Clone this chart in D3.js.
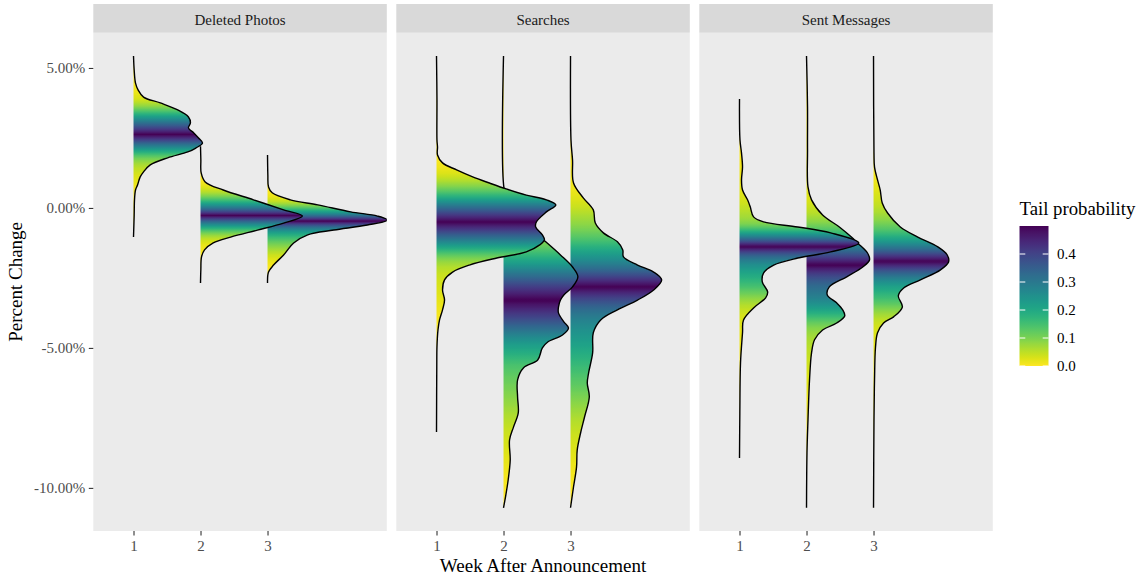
<!DOCTYPE html>
<html>
<head>
<meta charset="utf-8">
<script src="https://cdn.jsdelivr.net/npm/d3@7"></script>
<style>
  body { margin: 0; background: #fff; }
  text { font-family: "Liberation Serif", "Times New Roman", serif; }
</style>
</head>
<body>
<script>
// data
var panels = ["Deleted Photos", "Searches", "Sent Messages"];
var weeks = [1, 2, 3];
var yTicks = [5, 0, -5, -10];
var legendTicks = [0, 0.1, 0.2, 0.3, 0.4];

// density outlines: [percent change, half-width in week units], top to bottom
var photosWeek1 = [[5.43,0],[4.93,0.01],[4.46,0.03],[4.21,0.07],[3.96,0.15],[3.75,0.40],[3.50,0.66],[3.25,0.82],[3.04,0.85],[2.86,0.82],[2.68,0.90],[2.50,0.97],[2.32,1.03],[2.14,0.93],[2.00,0.81],[1.79,0.51],[1.54,0.25],[1.29,0.15],[1.11,0.10],[0.82,0.06],[0.64,0.03],[0.29,0.015],[-0.25,0.01],[-1.04,0]];
var photosWeek2 = [[2.20,0],[1.71,0.005],[1.25,0.01],[0.93,0.07],[0.64,0.34],[0.29,0.79],[-0.07,1.24],[-0.29,1.52],[-0.54,1.24],[-0.79,0.85],[-1.04,0.45],[-1.25,0.19],[-1.50,0.06],[-1.75,0.015],[-2.21,0.005],[-2.68,0]];
var photosWeek3 = [[1.89,0],[1.18,0.005],[0.75,0.015],[0.54,0.07],[0.29,0.34],[0.11,0.75],[-0.14,1.24],[-0.29,1.64],[-0.43,1.79],[-0.61,1.49],[-0.79,0.99],[-0.96,0.60],[-1.25,0.39],[-1.68,0.24],[-2.04,0.09],[-2.29,0.015],[-2.68,0]];

var searchesWeek1 = [[5.43,0],[3.86,0.007],[2.43,0.007],[2.18,0.015],[1.89,0.015],[1.61,0.09],[1.36,0.30],[1.11,0.54],[0.89,0.79],[0.68,1.04],[0.46,1.34],[0.29,1.64],[0.11,1.78],[-0.14,1.64],[-0.50,1.49],[-0.68,1.48],[-0.96,1.58],[-1.14,1.61],[-1.32,1.54],[-1.57,1.34],[-1.79,0.90],[-2.04,0.49],[-2.29,0.24],[-2.57,0.12],[-2.93,0.09],[-3.29,0.12],[-3.64,0.09],[-4.00,0.045],[-4.36,0.022],[-4.96,0.007],[-5.68,0.004],[-8.00,0]];
var searchesWeek2 = [[5.43,0],[0.71,0.007],[0.29,0.06],[-0.07,0.13],[-0.43,0.25],[-0.79,0.42],[-1.21,0.63],[-1.68,0.85],[-2.11,1.03],[-2.46,1.11],[-2.82,1.03],[-3.11,0.90],[-3.29,0.85],[-3.54,0.82],[-3.75,0.82],[-4.07,0.90],[-4.29,0.97],[-4.54,0.88],[-4.79,0.66],[-5.00,0.58],[-5.43,0.51],[-5.71,0.30],[-6.14,0.21],[-6.75,0.21],[-7.32,0.22],[-7.82,0.15],[-8.29,0.09],[-9.00,0.10],[-9.71,0.07],[-10.32,0.03],[-10.71,0]];
var searchesWeek3 = [[5.43,0],[2.43,0.007],[1.71,0.03],[0.89,0.045],[0.36,0.19],[-0.07,0.34],[-0.54,0.37],[-0.89,0.49],[-1.21,0.70],[-1.50,0.78],[-1.75,0.79],[-2.04,1.00],[-2.29,1.24],[-2.57,1.36],[-2.93,1.24],[-3.29,1.00],[-3.64,0.70],[-4.00,0.45],[-4.46,0.34],[-5.18,0.33],[-5.89,0.27],[-6.25,0.25],[-6.75,0.28],[-7.46,0.21],[-8.04,0.15],[-8.64,0.10],[-9.25,0.09],[-9.96,0.045],[-10.71,0]];

var messagesWeek1 = [[3.89,0],[2.43,0.007],[1.96,0.03],[1.46,0.045],[1.00,0.03],[0.64,0.045],[0.29,0.12],[0.04,0.16],[-0.32,0.21],[-0.50,0.36],[-0.68,0.87],[-0.89,1.36],[-1.25,1.78],[-1.57,1.36],[-1.79,0.87],[-2.04,0.51],[-2.32,0.36],[-2.64,0.34],[-3.00,0.42],[-3.21,0.39],[-3.57,0.21],[-4.00,0.06],[-4.46,0.045],[-5.54,0.015],[-7.32,0.005],[-8.93,0]];
var messagesWeek2 = [[5.43,0],[3.61,0.015],[2.07,0.015],[0.75,0.022],[0.29,0.075],[-0.25,0.24],[-0.68,0.49],[-1.04,0.67],[-1.25,0.76],[-1.61,0.91],[-1.86,0.94],[-2.11,0.84],[-2.46,0.60],[-2.82,0.34],[-3.11,0.31],[-3.39,0.45],[-3.64,0.54],[-3.86,0.57],[-4.11,0.45],[-4.36,0.24],[-4.71,0.12],[-5.18,0.075],[-6.14,0.045],[-7.57,0.022],[-8.75,0.007],[-10.71,0]];
var messagesWeek3 = [[5.43,0],[1.96,0.007],[1.46,0.015],[1.00,0.06],[0.64,0.10],[0.18,0.13],[-0.18,0.21],[-0.68,0.40],[-1.04,0.66],[-1.39,0.96],[-1.68,1.10],[-1.93,1.12],[-2.21,1.00],[-2.57,0.70],[-2.86,0.45],[-3.14,0.37],[-3.54,0.43],[-3.89,0.30],[-4.11,0.15],[-4.46,0.06],[-4.96,0.03],[-6.14,0.015],[-7.57,0.007],[-10.71,0]];

var densities = [
  [photosWeek1, photosWeek2, photosWeek3],
  [searchesWeek1, searchesWeek2, searchesWeek3],
  [messagesWeek1, messagesWeek2, messagesWeek3]
];

// layout
var svgWidth = 1140;
var svgHeight = 577;
var margin = { top: 32.7, left: 93.3, bottom: 531 };
var stripTop = 4;
var panelWidth = 293.5;
var panelGap = 9.5;

var svg = d3.select("body")
  .append("svg")
  .attr("width", svgWidth)
  .attr("height", svgHeight);
var defs = svg.append("defs");

var xScale = d3.scaleLinear()
  .domain([0.4, 4.78])
  .range([0, panelWidth]);

var yScale = d3.scaleLinear()
  .domain([-11.54, 6.26])
  .range([margin.bottom, margin.top]);

// viridis reversed: tail 0 -> yellow, tail 0.5 -> purple
function tailColor(t) {
  return d3.interpolateViridis(1 - t / 0.5);
}

// cumulative distribution along the outline, turned into gradient stops
function tailStops(dens) {
  var n = 300;
  var top = dens[0][0], bot = dens[dens.length - 1][0];
  var ps = d3.range(n + 1).map(function(i) { return top + (bot - top) * i / n; });
  var vals = ps.map(function(p) {
    for (var k = 1; k < dens.length; k++) {
      if (p >= dens[k][0]) {
        var a = dens[k - 1], b = dens[k];
        var f = (a[0] - p) / (a[0] - b[0]);
        return a[1] + (b[1] - a[1]) * f;
      }
    }
    return 0;
  });
  var cum = [0];
  for (var i = 1; i <= n; i++) cum.push(cum[i - 1] + (vals[i - 1] + vals[i]) / 2);
  var total = cum[n];
  return ps.map(function(p, i) {
    var F = cum[i] / total;
    return { offset: i / n, tail: Math.min(F, 1 - F) };
  });
}

function styleAxis(sel) {
  sel.attr("font-family", "Liberation Serif, Times New Roman, serif")
    .attr("font-size", 15);
  sel.select(".domain").remove();
  sel.selectAll(".tick line").attr("stroke", "#333333").attr("stroke-width", 1.1);
  sel.selectAll(".tick text").attr("fill", "#4D4D4D");
}

var curve = d3.curveCatmullRom.alpha(0.5);

panels.forEach(function(name, p) {
  var left = margin.left + p * (panelWidth + panelGap);
  var g = svg.append("g").attr("transform", `translate(${left}, 0)`);

  g.append("rect")
    .attr("y", margin.top)
    .attr("width", panelWidth)
    .attr("height", margin.bottom - margin.top)
    .attr("fill", "#EBEBEB");

  // strip
  g.append("rect")
    .attr("y", stripTop)
    .attr("width", panelWidth)
    .attr("height", margin.top - stripTop)
    .attr("fill", "#D9D9D9");
  g.append("text")
    .attr("x", panelWidth / 2)
    .attr("y", 24.5)
    .attr("text-anchor", "middle")
    .attr("font-size", 15)
    .attr("fill", "#1A1A1A")
    .text(name);

  defs.append("clipPath").attr("id", "clip" + p)
    .append("rect")
    .attr("y", margin.top)
    .attr("width", panelWidth)
    .attr("height", margin.bottom - margin.top);

  var body = g.append("g").attr("clip-path", `url(#clip${p})`);

  // later weeks underneath, week 1 on top
  [2, 1, 0].forEach(function(w) {
    var dens = densities[p][w];
    var week = weeks[w];
    var id = "grad" + p + "_" + w;

    var grad = defs.append("linearGradient")
      .attr("id", id)
      .attr("gradientUnits", "userSpaceOnUse")
      .attr("x1", 0).attr("x2", 0)
      .attr("y1", yScale(dens[0][0]))
      .attr("y2", yScale(dens[dens.length - 1][0]));
    grad.selectAll("stop")
      .data(tailStops(dens))
      .enter().append("stop")
      .attr("offset", function(d) { return d.offset; })
      .attr("stop-color", function(d) { return tailColor(d.tail); });

    var area = d3.area()
      .curve(curve)
      .y(function(d) { return yScale(d[0]); })
      .x0(xScale(week))
      .x1(function(d) { return xScale(week + d[1]); });

    var line = d3.line()
      .curve(curve)
      .x(function(d) { return xScale(week + d[1]); })
      .y(function(d) { return yScale(d[0]); });

    body.append("path")
      .datum(dens)
      .attr("d", area)
      .attr("fill", `url(#${id})`);

    body.append("path")
      .datum(dens)
      .attr("d", line)
      .attr("fill", "none")
      .attr("stroke", "#000")
      .attr("stroke-width", 1.4);
  });

  var xAxis = d3.axisBottom(xScale)
    .tickValues(weeks)
    .tickFormat(d3.format("d"))
    .tickSize(4.5)
    .tickPadding(5);
  g.append("g")
    .attr("transform", `translate(0, ${margin.bottom})`)
    .call(xAxis)
    .call(styleAxis);

  if (p === 0) {
    var yAxis = d3.axisLeft(yScale)
      .tickValues(yTicks)
      .tickFormat(function(d) { return d.toFixed(2) + "%"; })
      .tickSize(4.5)
      .tickPadding(3.5);
    g.append("g")
      .call(yAxis)
      .call(styleAxis);
  }
});

// axis titles
svg.append("text")
  .attr("x", (margin.left + margin.left + 3 * panelWidth + 2 * panelGap) / 2)
  .attr("y", 572)
  .attr("text-anchor", "middle")
  .attr("font-size", 19)
  .attr("fill", "#000")
  .text("Week After Announcement");

svg.append("text")
  .attr("transform", `translate(22, ${(margin.top + margin.bottom) / 2}) rotate(-90)`)
  .attr("text-anchor", "middle")
  .attr("font-size", 19)
  .attr("fill", "#000")
  .text("Percent Change");

// legend
var legendX = 1019.5;
var barWidth = 29;
var legendY = d3.scaleLinear().domain([0, 0.5]).range([366, 226]);

svg.append("text")
  .attr("x", legendX)
  .attr("y", 215)
  .attr("font-size", 18.75)
  .attr("fill", "#000")
  .text("Tail probability");

var lg = defs.append("linearGradient")
  .attr("id", "legendGrad")
  .attr("x1", 0).attr("x2", 0).attr("y1", 1).attr("y2", 0);
lg.selectAll("stop")
  .data(d3.range(0, 51).map(function(i) { return i / 100; }))
  .enter().append("stop")
  .attr("offset", function(d) { return d / 0.5; })
  .attr("stop-color", function(d) { return tailColor(d); });

svg.append("rect")
  .attr("x", legendX)
  .attr("y", legendY(0.5))
  .attr("width", barWidth)
  .attr("height", legendY(0) - legendY(0.5))
  .attr("fill", "url(#legendGrad)");

var legendTick = svg.append("g").selectAll("g")
  .data(legendTicks)
  .enter().append("g");
legendTick.append("line")
  .attr("x1", legendX).attr("x2", legendX + 5.8)
  .attr("y1", function(d) { return legendY(d); })
  .attr("y2", function(d) { return legendY(d); })
  .attr("stroke", "#fff").attr("stroke-width", 1);
legendTick.append("line")
  .attr("x1", legendX + barWidth - 5.8).attr("x2", legendX + barWidth)
  .attr("y1", function(d) { return legendY(d); })
  .attr("y2", function(d) { return legendY(d); })
  .attr("stroke", "#fff").attr("stroke-width", 1);
legendTick.append("text")
  .attr("x", legendX + barWidth + 8.5)
  .attr("y", function(d) { return legendY(d); })
  .attr("dy", "0.32em")
  .attr("font-size", 15)
  .attr("fill", "#000")
  .text(function(d) { return d.toFixed(1); });
</script>
</body>
</html>
